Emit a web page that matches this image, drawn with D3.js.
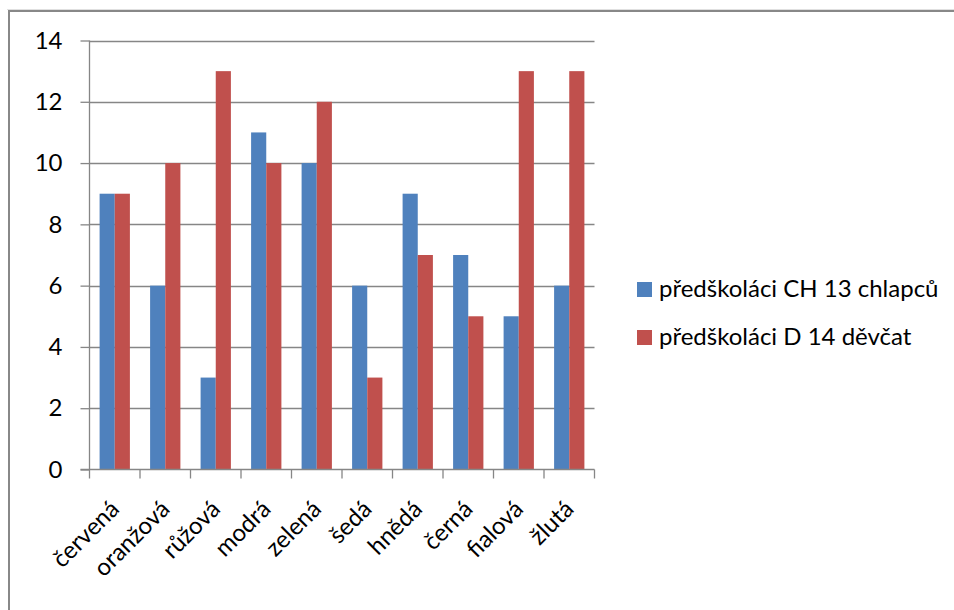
<!DOCTYPE html>
<html>
<head>
<meta charset="utf-8">
<script src="https://cdn.jsdelivr.net/npm/d3@7"></script>
<style>
  html, body { margin: 0; padding: 0; background: #fff; }
  svg { display: block; }
  text { font-family: Lato, "Open Sans", sans-serif; fill: #000; }
</style>
</head>
<body>
<svg id="chart" width="954" height="610"></svg>
<script>
// Oblíbené barvy předškoláků
const categories = ["červená", "oranžová", "růžová", "modrá", "zelená", "šedá", "hnědá", "černá", "fialová", "žlutá"];
const seriesNames = ["předškoláci CH 13 chlapců", "předškoláci D 14 děvčat"];
const boys  = [9, 6, 3, 11, 10, 6, 9, 7, 5, 6];
const girls = [9, 10, 13, 10, 12, 3, 7, 5, 13, 13];
const yTicks = [0, 2, 4, 6, 8, 10, 12, 14];
const colors = ["#4F81BD", "#C0504D"];

const values = [boys, girls];
const svg = d3.select("#chart");
const fontSize = 24;

// outer chart frame (continues past the right and bottom edges)
svg.append("line").attr("x1", 7).attr("x2", 954).attr("y1", 9.5).attr("y2", 9.5)
  .attr("stroke", "#e0e0e0").attr("stroke-width", 1);
svg.append("rect")
  .attr("x", 9).attr("y", 11).attr("width", 1000).attr("height", 700)
  .attr("fill", "none").attr("stroke", "#888").attr("stroke-width", 2);

const plot = { left: 89.5, right: 594.5, top: 40.5, bottom: 469.5 };

const x0 = d3.scaleBand().domain(categories).range([plot.left, plot.right]).padding(0);
const x1 = d3.scaleBand().domain(seriesNames).range([0, x0.bandwidth()])
  .paddingInner(0).paddingOuter(2 / 3);
const y = d3.scaleLinear().domain([0, 14]).range([plot.bottom, plot.top]);

// horizontal gridlines
svg.append("g")
  .selectAll("line")
  .data(yTicks.filter(t => t > 0))
  .join("line")
  .attr("x1", plot.left).attr("x2", plot.right)
  .attr("y1", d => Math.round(y(d)) + 0.5).attr("y2", d => Math.round(y(d)) + 0.5)
  .attr("stroke", "#868686").attr("stroke-width", 1.3);

// bars
const groups = svg.append("g")
  .selectAll("g")
  .data(categories)
  .join("g")
  .attr("transform", d => `translate(${x0(d)},0)`);

groups.selectAll("rect")
  .data((c, i) => seriesNames.map((s, k) => ({ s, k, v: values[k][i] })))
  .join("rect")
  .attr("x", d => x1(d.s))
  .attr("width", x1.bandwidth())
  .attr("y", d => y(d.v))
  .attr("height", d => y(0) - y(d.v))
  .attr("fill", d => colors[d.k]);

// y axis
const yAxis = d3.axisLeft(y).tickValues(yTicks).tickSize(9).tickPadding(18)
  .tickFormat(d3.format("d"));
const gy = svg.append("g").attr("transform", `translate(${plot.left},0)`).call(yAxis);
gy.select(".domain").attr("stroke", "#868686").attr("stroke-width", 1.3)
  .attr("d", `M0,${plot.top}V${plot.bottom}`);
gy.selectAll(".tick line").attr("stroke", "#868686").attr("stroke-width", 1.3);
gy.selectAll(".tick text")
  .attr("font-family", "Lato, sans-serif").attr("font-size", fontSize).attr("fill", "#000");

// x axis with category boundary ticks
const gx = svg.append("g").attr("transform", `translate(0,${plot.bottom})`);
gx.append("line").attr("x1", plot.left - 9).attr("x2", plot.right)
  .attr("stroke", "#868686").attr("stroke-width", 1.3);
const bounds = categories.map(c => x0(c)).concat([plot.right]);
gx.selectAll("line.tk").data(bounds).join("line").attr("class", "tk")
  .attr("x1", d => d).attr("x2", d => d).attr("y1", 0).attr("y2", 9)
  .attr("stroke", "#868686").attr("stroke-width", 1.3);

gx.selectAll("text.cat").data(categories).join("text").attr("class", "cat")
  .attr("text-anchor", "end")
  .attr("font-size", fontSize)
  .attr("transform", d => `translate(${x0(d) + x0.bandwidth() / 2 + 6},${41}) rotate(-45)`)
  .text(d => d);

// legend
const legend = svg.append("g").attr("transform", "translate(637,282)");
const items = legend.selectAll("g").data(seriesNames).join("g")
  .attr("transform", (d, i) => `translate(0,${i * 48})`);
items.append("rect").attr("width", 15).attr("height", 15).attr("fill", (d, i) => colors[i]);
items.append("text").attr("x", 22).attr("y", 15).attr("font-size", fontSize).text(d => d);
</script>
</body>
</html>
